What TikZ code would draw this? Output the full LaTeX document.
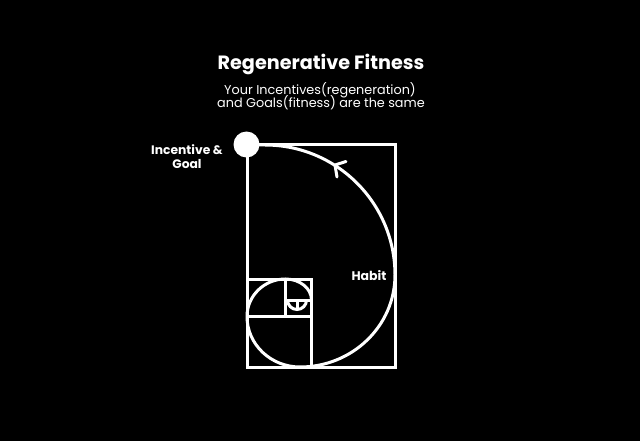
\documentclass[tikz,border=0pt]{standalone}
\usepackage{fontspec}
\setmainfont{Poppins}
\begin{document}
\begin{tikzpicture}[x=1pt,y=-1pt,
  ln/.style={draw=white,line width=3pt},
  lbl/.style={text=white,inner sep=0pt,anchor=base,align=center}]
\fill[black] (0,0) rectangle (640,441);
\useasboundingbox (0,0) rectangle (640,441);
% titles
\node[lbl,font=\bfseries\fontsize{19.2}{22}\selectfont] (title) at (321,70) {Regenerative Fitness};
\node[lbl,font=\fontsize{12.8}{15}\selectfont] (sub1) at (320,95) {Your Incentives(regeneration)};
\node[lbl,font=\fontsize{12.8}{15}\selectfont] (sub2) at (321,108) {and Goals(fitness) are the same};
\node[lbl,font=\bfseries\fontsize{12.3}{14}\selectfont] (ig1) at (187,154) {Incentive \&};
\node[lbl,font=\bfseries\fontsize{12.3}{14}\selectfont] (ig2) at (187,168) {Goal};
\node[lbl,font=\bfseries\fontsize{12.5}{14}\selectfont] (habit) at (369,280) {Habit};
% rectangles
\draw[ln] (247,145) rectangle (395,367);
\draw[ln] (247,279) rectangle (311.5,367);
\draw[ln] (247,316.5) -- (311.5,316.5);
\draw[ln] (285.5,279) -- (285.5,316.5);
\draw[ln] (285.5,300) -- (311.5,300);
% spiral
\draw[ln,line cap=round] (247,145) -- (265,145)
  arc[start angle=-90,end angle=0,radius=130]
  arc[start angle=0,end angle=90,x radius=95,y radius=92]
  arc[start angle=90,end angle=180,x radius=53,y radius=50.5]
  arc[start angle=180,end angle=270,x radius=38.5,y radius=37.5]
  arc[start angle=270,end angle=360,x radius=26,y radius=21];
\draw[ln] (287.5,300) arc[start angle=180,end angle=0,radius=9.5];
\draw[ln] (297,300) -- (297,310);
% arrow chevron
\coordinate (ap) at (335,165);
\draw[ln,line cap=round,line join=round] (346,161.5) -- (ap) -- (337,177);
% dot
\fill[white] (246.5,144.5) circle[radius=13];
\end{tikzpicture}
\end{document}
